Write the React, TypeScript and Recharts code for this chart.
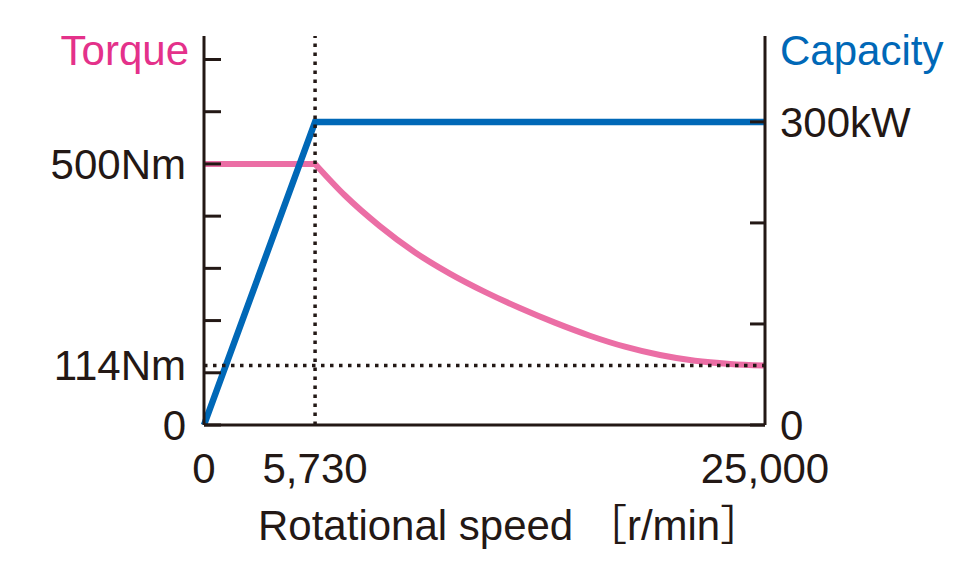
import { LineChart, Line, XAxis, YAxis, ReferenceLine } from "recharts";

// speed in r/min, torque in Nm, power (capacity) in kW
const speed = [0, 5730, 7000, 8500, 10000, 11500, 13000, 14500, 16000, 17500, 19000, 20500, 22000, 23500, 25000];
const torqueFlat = [500, 500, null, null, null, null, null, null, null, null, null, null, null, null, null];
const torqueFalling = [null, 500, 440, 381, 331, 290, 255, 224, 196, 171, 150, 134, 123, 117, 114];
const power = [0, 300, 300, 300, 300, 300, 300, 300, 300, 300, 300, 300, 300, 300, 300];

const speedTicks = [0, 5730, 25000];
const torqueTicks = [0, 100, 114, 200, 300, 400, 500, 600, 700];
const torqueLabels: Record<number, string> = { 0: "0", 114: "114Nm", 500: "500Nm" };
const powerTicks = [0, 100, 200, 300];
const powerLabels: Record<number, string> = { 0: "0", 300: "300kW" };

const BASE_SPEED = 5730;
const MIN_TORQUE = 114;
// the speed axis is schematic: the base speed sits at about 1/5 of the axis
const BASE_SPEED_POS = 0.198;

const rows = speed.map((s, i) => ({
  speed: s,
  torqueFlat: torqueFlat[i],
  torqueFalling: torqueFalling[i],
  power: power[i],
}));

const INK = "#231815";
const BLUE = "#0068b7";
const PINK_LINE = "#eb6ea5";
const PINK_TEXT = "#e4318a";
const FONT = "'Liberation Sans', Arial, 'Noto Sans CJK JP', sans-serif";
const FS = 42;

// two-piece linear scale with a knee at the base speed
function kneeScale(knee: number, kneePos: number): any {
  let dom = [0, 1];
  let rng = [0, 1];
  const s: any = (v: number) => {
    const [d0, d1] = dom;
    const t = v <= knee
      ? ((v - d0) / (knee - d0)) * kneePos
      : kneePos + ((v - knee) / (d1 - knee)) * (1 - kneePos);
    return rng[0] + t * (rng[1] - rng[0]);
  };
  s.domain = (d?: number[]) => (d === undefined ? dom.slice() : ((dom = d.map(Number)), s));
  s.range = (r?: number[]) => (r === undefined ? rng.slice() : ((rng = r.slice()), s));
  s.copy = () => kneeScale(knee, kneePos).domain(dom).range(rng);
  s.ticks = () => speedTicks.slice();
  s.tickFormat = () => (v: number) => String(v);
  return s;
}

const speedScale = kneeScale(BASE_SPEED, BASE_SPEED_POS);

function LeftTick({ x, y, payload }: any) {
  const v = payload.value as number;
  const label = torqueLabels[v];
  return (
    <g>
      {v % 100 === 0 && <line x1={x} x2={x + 17} y1={y} y2={y} stroke={INK} strokeWidth={3} />}
      {label && (
        <text x={x - 18} y={y} dy={15} textAnchor="end" fill={INK} fontSize={FS} fontFamily={FONT}>
          {label}
        </text>
      )}
    </g>
  );
}

function RightTick({ x, y, payload }: any) {
  const v = payload.value as number;
  const label = powerLabels[v];
  return (
    <g>
      <line x1={x - 15} x2={x} y1={y} y2={y} stroke={INK} strokeWidth={3} />
      {label && (
        <text x={x + 15} y={y} dy={15} textAnchor="start" fill={INK} fontSize={FS} fontFamily={FONT}>
          {label}
        </text>
      )}
    </g>
  );
}

function BottomTick({ x, y, payload }: any) {
  return (
    <text x={x} y={y} dy={58} textAnchor="middle" fill={INK} fontSize={FS} fontFamily={FONT}>
      {payload.value.toLocaleString("en-US")}
    </text>
  );
}

export default function App() {
  return (
    <div style={{ position: "absolute", left: 0, top: 0, width: 960, height: 580, background: "#fff" }}>
      <LineChart width={960} height={580} data={rows} margin={{ top: 36, right: 0, bottom: 0, left: 0 }}>
        <XAxis
          dataKey="speed"
          type="number"
          scale={speedScale}
          domain={[0, 25000]}
          ticks={speedTicks}
          height={155}
          axisLine={{ stroke: INK, strokeWidth: 3 }}
          tickLine={false}
          tickSize={0}
          tickMargin={0}
          tick={<BottomTick />}
          interval={0}
          label={{
            content: ({ viewBox }: any) => (
              <text x={viewBox.x + 54} y={viewBox.y + 115} fill={INK} fontSize={FS} fontFamily={FONT}>
                Rotational speed ［r/min］
              </text>
            ),
          }}
        />
        <YAxis
          yAxisId="t"
          width={204}
          domain={[0, 745]}
          ticks={torqueTicks}
          interval={0}
          axisLine={{ stroke: INK, strokeWidth: 3 }}
          tickLine={false}
          tickSize={0}
          tickMargin={0}
          tick={<LeftTick />}
          label={{
            content: ({ viewBox }: any) => (
              <text x={viewBox.x + viewBox.width - 15} y={viewBox.y + 29} textAnchor="end" fill={PINK_TEXT} fontSize={FS} fontFamily={FONT}>
                Torque
              </text>
            ),
          }}
        />
        <YAxis
          yAxisId="p"
          orientation="right"
          width={195}
          domain={[0, 385]}
          ticks={powerTicks}
          interval={0}
          axisLine={{ stroke: INK, strokeWidth: 3 }}
          tickLine={false}
          tickSize={0}
          tickMargin={0}
          tick={<RightTick />}
          label={{
            content: ({ viewBox }: any) => (
              <text x={viewBox.x + 15} y={viewBox.y + 29} textAnchor="start" fill={BLUE} fontSize={FS} fontFamily={FONT}>
                Capacity
              </text>
            ),
          }}
        />
        <Line yAxisId="t" dataKey="torqueFlat" type="linear" stroke={PINK_LINE} strokeWidth={6} dot={false} isAnimationActive={false} />
        <Line yAxisId="t" dataKey="torqueFalling" type="monotone" stroke={PINK_LINE} strokeWidth={6} dot={false} isAnimationActive={false} />
        <Line yAxisId="p" dataKey="power" type="linear" stroke={BLUE} strokeWidth={6.5} dot={false} isAnimationActive={false} />
        <ReferenceLine yAxisId="t" x={BASE_SPEED} stroke={INK} strokeWidth={3.5} strokeDasharray="3.5 5.5" />
        <ReferenceLine yAxisId="t" y={MIN_TORQUE} stroke={INK} strokeWidth={3.5} strokeDasharray="3.5 5.5" />
      </LineChart>
    </div>
  );
}
